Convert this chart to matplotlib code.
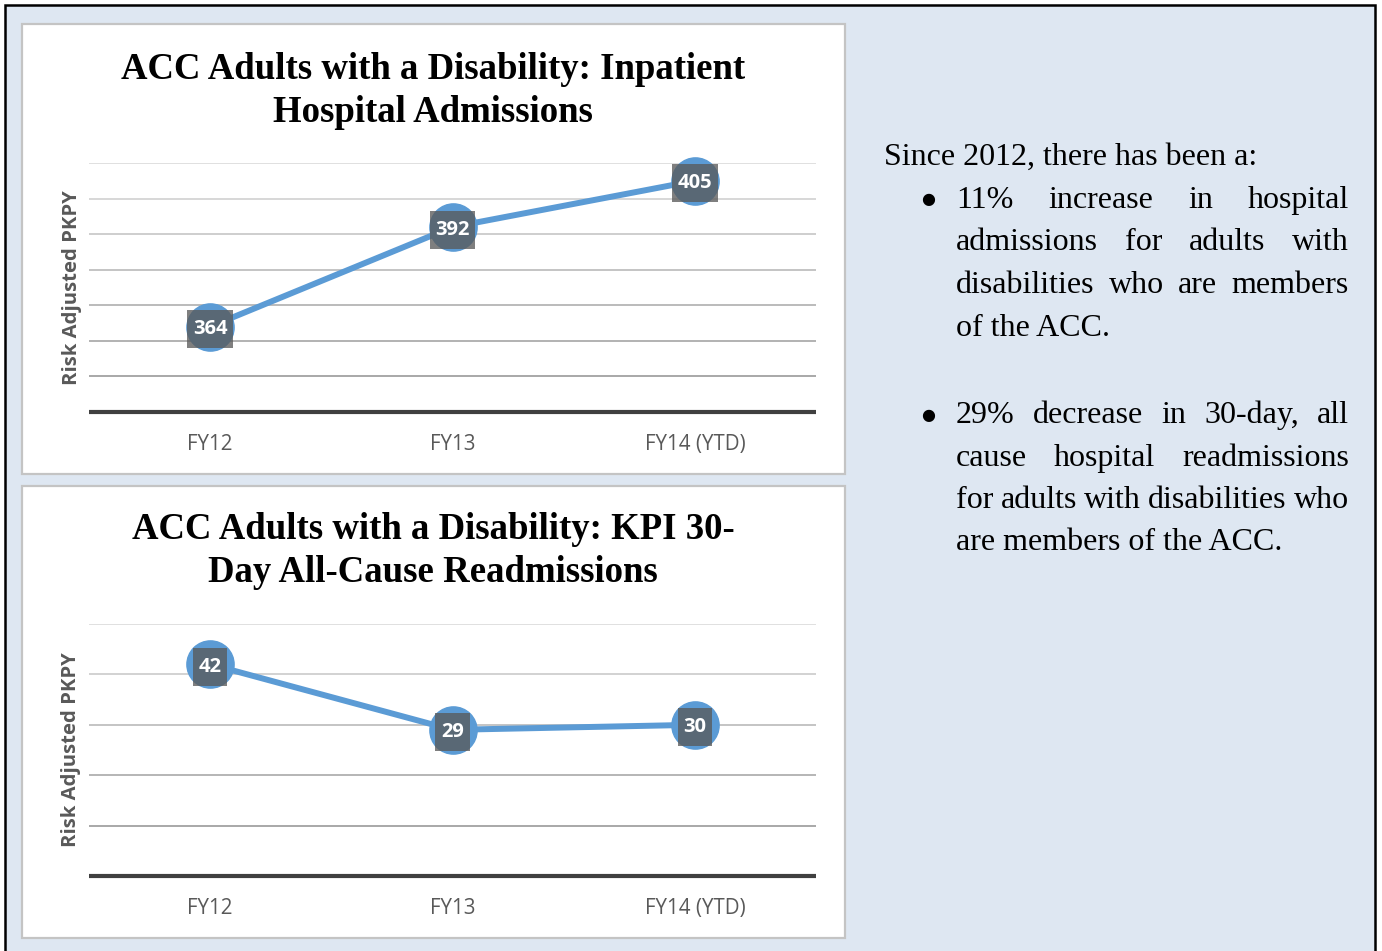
import matplotlib.pyplot as plt
from matplotlib.patches import Rectangle
import numpy as np

W, H = 1382, 951

years = ["FY12", "FY13", "FY14 (YTD)"]
admissions = [364, 392, 405]
readmissions = [42, 29, 30]

title_admissions = ["ACC Adults with a Disability: Inpatient", "Hospital Admissions"]
title_readmissions = ["ACC Adults with a Disability: KPI 30-", "Day All-Cause Readmissions"]
y_label = "Risk Adjusted PKPY"

intro = "Since 2012, there has been a:"
bullet_1 = ["11% increase in hospital",
            "admissions for adults with",
            "disabilities who are members",
            "of the ACC."]
bullet_2 = ["29% decrease in 30-day, all",
            "cause hospital readmissions",
            "for adults with disabilities who",
            "are members of the ACC."]

BLUE = "#5B9BD5"
GREY_TXT = "#595959"
SERIF = "Liberation Serif"
SANS = "Open Sans"


def fx(x):
    return x / W


def fy(y):
    return 1 - y / H


fig = plt.figure(figsize=(W / 100, H / 100), dpi=100)
fig.patch.set_facecolor("white")

# light blue sheet with black frame
fig.patches.append(Rectangle((fx(5), fy(960)), fx(1375) - fx(5), fy(5) - fy(960),
                             transform=fig.transFigure, facecolor="#DEE7F2",
                             edgecolor="black", lw=1.8, zorder=0))


def line_panel(panel, plot_box, title, title_base, values, ylim, step, label_y):
    x0, y0, x1, y1 = panel
    fig.patches.append(Rectangle((fx(x0), fy(y1)), fx(x1) - fx(x0), fy(y0) - fy(y1),
                                 transform=fig.transFigure, facecolor="white",
                                 edgecolor="#C4C4C4", lw=1.6, zorder=1))
    for i, line in enumerate(title):
        fig.text(fx(433), fy(title_base + i * 43), line, ha="center", va="baseline",
                 fontsize=26.5, fontweight="bold", family=SERIF, color="black")

    px0, py0, px1, py1 = plot_box
    ax = fig.add_axes([fx(px0), fy(py1), fx(px1) - fx(px0), fy(py0) - fy(py1)])
    ax.set_zorder(5)
    ax.set_facecolor("none")
    ax.set_xlim(-0.5, len(years) - 0.5)
    ax.set_ylim(*ylim)

    grid = np.arange(ylim[0] + step, ylim[1] + step / 2, step)
    shades = np.linspace(0.66, 0.88, len(grid))
    for g, s in zip(grid, shades):
        ax.axhline(g, color=str(s), lw=1.4, zorder=1)
    ax.axhline(ylim[0], color="#404040", lw=3.0, zorder=2, clip_on=False,
               solid_capstyle="butt")

    x = np.arange(len(years))
    ax.plot(x, values, color=BLUE, lw=4.3, marker="o", ms=34, mfc=BLUE, mec=BLUE,
            zorder=3, clip_on=False)
    for xi, v in zip(x, values):
        ax.text(xi, v, str(v), ha="center", va="center_baseline", color="white",
                fontsize=14.5, fontweight="bold", family=SANS, zorder=4,
                bbox=dict(boxstyle="square,pad=0.28", mutation_aspect=1.6,
                          fc="#595959", ec="none", alpha=0.77))

    for s in ax.spines.values():
        s.set_visible(False)
    ax.set_yticks([])
    ax.set_xticks(x)
    ax.set_xticklabels(years, family=SANS, fontsize=14.8, color=GREY_TXT)
    ax.tick_params(axis="x", length=0, pad=16)
    ax.set_ylabel(y_label, family=SANS, fontsize=14.6, fontweight="bold", color=GREY_TXT)
    ax.yaxis.set_label_coords((label_y - px0) / (px1 - px0), 0.5)
    return ax


line_panel((22, 24, 845, 474), (89, 163, 816, 412), title_admissions, 79,
           admissions, (340, 410), 10, 82)
line_panel((22, 486, 845, 938), (89, 624, 816, 876), title_readmissions, 539,
           readmissions, (0, 50), 10, 81)

# right hand text, justified between two edges
renderer = fig.canvas.get_renderer()
TXT = dict(fontsize=23, family=SERIF, color="black", va="baseline")
LEFT, RIGHT = 956, 1349

fig.text(fx(884), fy(165), intro, **TXT)


def justified(lines, base, step=42.5):
    for i, line in enumerate(lines):
        y = fy(base + i * step)
        if i == len(lines) - 1:
            fig.text(fx(LEFT), y, line, **TXT)
            continue
        words = line.split()
        arts = [fig.text(0, y, w, **TXT) for w in words]
        widths = [a.get_window_extent(renderer).width for a in arts]
        gap = (RIGHT - LEFT - sum(widths)) / (len(words) - 1)
        xp = LEFT
        for a, w in zip(arts, widths):
            a.set_x(fx(xp))
            xp += w + gap


for base in (208, 423):
    fig.text(fx(928), fy(base - 8), "\u25CF", ha="center", va="center",
             fontsize=11.5, family="DejaVu Sans", color="black")
justified(bullet_1, 208)
justified(bullet_2, 423)

fig.savefig("out.png", dpi=100)
